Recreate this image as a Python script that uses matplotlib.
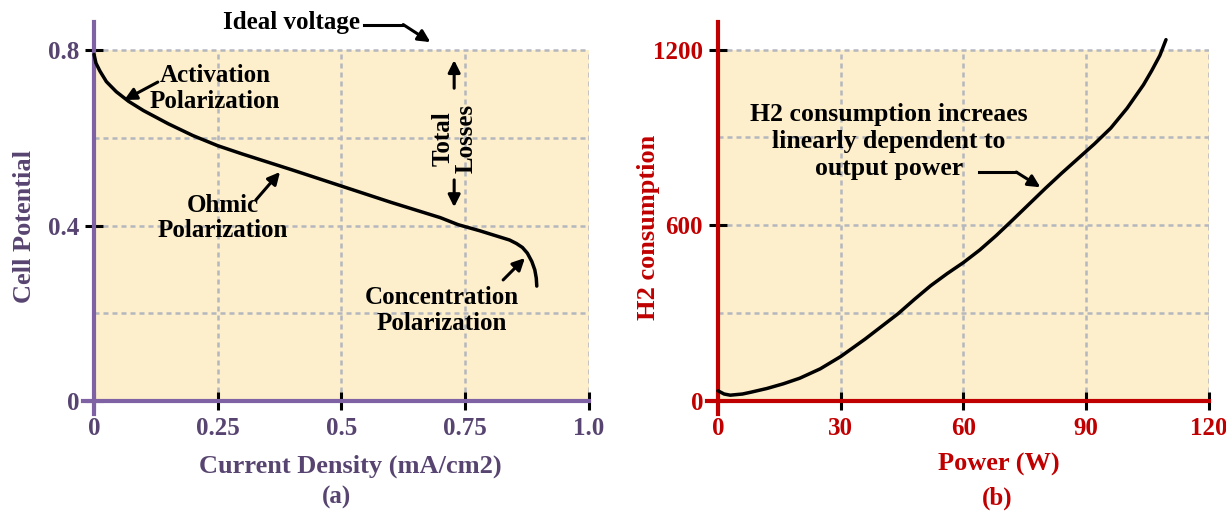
import numpy as np
import matplotlib
matplotlib.use('Agg')
import matplotlib.pyplot as plt
from matplotlib.patches import Rectangle

plt.rcParams['font.family'] = ['Liberation Serif', 'DejaVu Serif']
plt.rcParams['font.weight'] = 'bold'

# (a) polarization curve
current_density = [0.0, 0.004, 0.012, 0.025, 0.045, 0.07, 0.10, 0.15, 0.20, 0.25, 0.30,
                   0.40, 0.50, 0.60, 0.70, 0.736, 0.78, 0.82, 0.84, 0.854, 0.866, 0.876,
                   0.885, 0.891, 0.894, 0.895]
cell_potential = [0.790, 0.770, 0.752, 0.728, 0.705, 0.683, 0.662, 0.632, 0.605, 0.582, 0.563,
                  0.527, 0.490, 0.453, 0.418, 0.402, 0.388, 0.374, 0.367, 0.359, 0.350, 0.337,
                  0.318, 0.299, 0.280, 0.262]
a_xticks = [0, 0.25, 0.5, 0.75, 1.0]
a_xlabels = ['0', '0.25', '0.5', '0.75', '1.0']
a_yticks = [0, 0.4, 0.8]
a_ylabels = ['0', '0.4', '0.8']
a_ygrid = [0.2, 0.4, 0.6, 0.8]

# (b) hydrogen consumption
power = [0, 1.5, 3, 6, 8, 12, 16, 20, 25, 30, 36, 40, 44, 48, 52, 56, 60, 64, 68, 72, 76, 80,
         84, 88, 92, 96, 100, 102, 104, 106, 108, 109.5]
h2 = [35, 24, 20, 24, 30, 43, 59, 78, 110, 152, 212, 255, 298, 347, 394, 435, 473, 516, 565,
      618, 672, 726, 778, 828, 878, 932, 1000, 1040, 1080, 1128, 1180, 1234]
b_xticks = [0, 30, 60, 90, 120]
b_yticks = [0, 600, 1200]
b_ygrid = [300, 600, 900, 1200]

BG = '#fdefcc'
GRID = '#b4b7bd'
PURPLE = '#7e62a3'
PURPLE_TXT = '#574470'
RED = '#c00000'

fig = plt.figure(figsize=(12.26, 5.11), dpi=100)
ax1 = fig.add_axes([0.0678, 0.1894, 0.4124, 0.7685])
ax2 = fig.add_axes([0.5766, 0.1894, 0.4095, 0.7685])


def style(ax, xlim, ylim, xticks, yticks, xgrid, ygrid, spine_col, txt_col, xlabels=None, ylabels=None):
    ax.set_xlim(*xlim)
    ax.set_ylim(*ylim)
    ax.patch.set_visible(False)
    # cream plot area and dashed grid, bounded by the last tick/grid value
    ax.add_patch(Rectangle((0, 0), xticks[-1], ygrid[-1], facecolor=BG, edgecolor='none', zorder=0))
    ax.vlines(xgrid, 0, ygrid[-1], colors=GRID, lw=1.8, linestyles=(0, (2.0, 1.6)), zorder=1)
    ax.hlines(ygrid, 0, xticks[-1], colors=GRID, lw=1.8, linestyles=(0, (2.0, 1.6)), zorder=1)
    for s in ['top', 'right']:
        ax.spines[s].set_visible(False)
    for s in ['left', 'bottom']:
        ax.spines[s].set_position(('data', 0))
        ax.spines[s].set_color(spine_col)
        ax.spines[s].set_linewidth(3)
    ax.set_xticks(xticks)
    ax.set_yticks(yticks)
    if xlabels:
        ax.set_xticklabels(xlabels)
    if ylabels:
        ax.set_yticklabels(ylabels)
    ax.tick_params(direction='inout', length=13.5, width=2.2, color='black',
                   labelsize=18, labelcolor=txt_col, pad=4)
    ax.tick_params(axis='x', pad=5)
    ax.xaxis.get_major_ticks()[0].tick1line.set_color(spine_col)
    ax.yaxis.get_major_ticks()[0].tick1line.set_color(spine_col)
    for lab in ax.get_xticklabels() + ax.get_yticklabels():
        lab.set_fontweight('bold')


style(ax1, (-0.022, 1.0), (-0.03, 0.865), a_xticks, a_yticks, a_xticks[1:], a_ygrid,
      PURPLE, PURPLE_TXT, a_xlabels, a_ylabels)
style(ax2, (-2.7, 120), (-45, 1296), b_xticks, b_yticks, b_xticks[1:], b_ygrid, RED, RED)

ax1.plot(current_density, cell_potential, color='black', lw=2.5, zorder=3,
         solid_capstyle='round', solid_joinstyle='round')
ax2.plot(power, h2, color='black', lw=2.5, zorder=3, solid_capstyle='round', solid_joinstyle='round')

ax1.set_ylabel('Cell Potential', fontsize=19, color=PURPLE_TXT, fontweight='bold')
ax1.yaxis.set_label_coords(-0.115, 0.479)
ax1.yaxis.label.set_va('center')
ax1.set_xlabel('Current Density (mA/cm2)', fontsize=19, color=PURPLE_TXT, fontweight='bold')
ax1.xaxis.set_label_coords(0.528, -0.132)
ax1.xaxis.label.set_va('center')
ax1.text(0.502, -0.212, '(a)', transform=ax1.transAxes, ha='center', va='center',
         fontsize=18, color=PURPLE_TXT)

ax2.set_ylabel('H2 consumption', fontsize=19, color=RED, fontweight='bold')
ax2.yaxis.set_label_coords(-0.117, 0.475)
ax2.yaxis.label.set_va('center')
ax2.set_xlabel('Power (W)', fontsize=19, color=RED, fontweight='bold')
ax2.xaxis.set_label_coords(0.582, -0.127)
ax2.xaxis.label.set_va('center')
ax2.text(0.578, -0.214, '(b)', transform=ax2.transAxes, ha='center', va='center',
         fontsize=18, color=RED)

arrow = dict(arrowstyle='-|>', lw=2.2, color='black', mutation_scale=18, shrinkA=0, shrinkB=0)

# annotations panel (a)
ax1.text(0.40, 0.862, 'Ideal voltage', ha='center', va='center', fontsize=18, clip_on=False)
ax1.plot([0.545, 0.625], [0.858, 0.858], color='black', lw=2.2, clip_on=False)
ax1.annotate('', xy=(0.68, 0.818), xytext=(0.625, 0.858), arrowprops=arrow, annotation_clip=False)

ax1.text(0.245, 0.713, 'Activation\nPolarization', ha='center', va='center', fontsize=18,
         multialignment='center', linespacing=1.15)
ax1.annotate('', xy=(0.061, 0.686), xytext=(0.129, 0.727), arrowprops=arrow)

ax1.text(0.261, 0.417, 'Ohmic\nPolarization', ha='center', va='center', fontsize=18,
         multialignment='center', linespacing=1.15)
ax1.annotate('', xy=(0.376, 0.522), xytext=(0.327, 0.458), arrowprops=arrow)

ax1.text(0.703, 0.207, 'Concentration\nPolarization', ha='center', va='center', fontsize=18,
         multialignment='center', linespacing=1.15)
ax1.annotate('', xy=(0.871, 0.326), xytext=(0.827, 0.276), arrowprops=arrow)

ax1.text(0.728, 0.599, 'Total\nLosses', ha='center', va='center', fontsize=18, rotation=90,
         multialignment='center', linespacing=1.0)
ax1.annotate('', xy=(0.728, 0.777), xytext=(0.728, 0.713), arrowprops=arrow)
ax1.annotate('', xy=(0.728, 0.442), xytext=(0.728, 0.504), arrowprops=arrow)

# annotation panel (b)
ax2.text(41.8, 886, 'H2 consumption increaes\nlinearly dependent to\noutput power', ha='center',
         va='center', fontsize=18.5, multialignment='center', linespacing=1.2)
ax2.plot([63.8, 72.9], [782, 782], color='black', lw=2.2)
ax2.annotate('', xy=(78.8, 730), xytext=(72.9, 782), arrowprops=arrow)

fig.savefig('out.png', dpi=100)
